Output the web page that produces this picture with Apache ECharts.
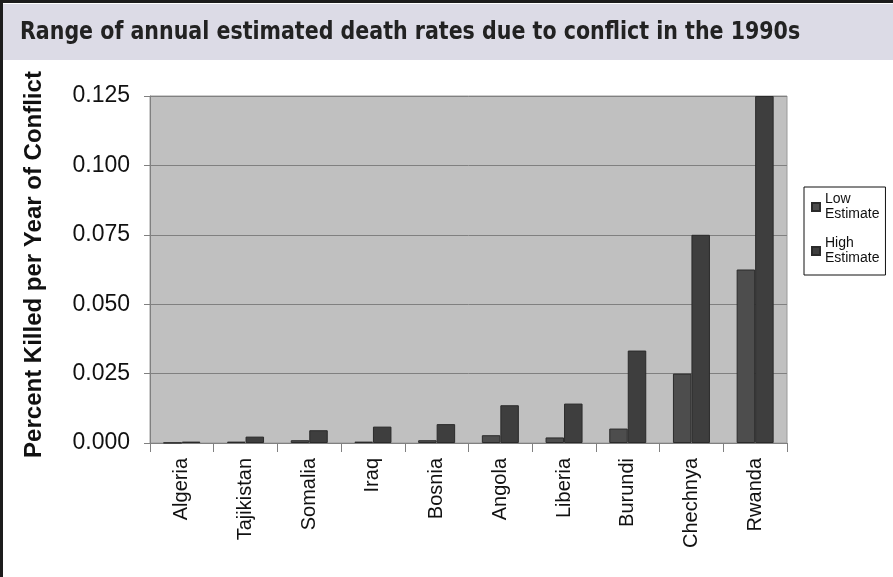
<!DOCTYPE html>
<html>
<head>
<meta charset="utf-8">
<script src="https://cdn.jsdelivr.net/npm/echarts@6/dist/echarts.min.js"></script>
<style>
  html, body { margin: 0; padding: 0; background: #fff; }
  #chart { width: 893px; height: 577px; }
</style>
</head>
<body>
<div id="chart"></div>
<script>
// Annual estimated death rates (percent killed per year of conflict), 1990s
const countries = ['Algeria', 'Tajikistan', 'Somalia', 'Iraq', 'Bosnia', 'Angola', 'Liberia', 'Burundi', 'Chechnya', 'Rwanda'];
const lowEstimate = [0.0001, 0.0005, 0.001, 0.0005, 0.001, 0.0028, 0.002, 0.0052, 0.025, 0.0625];
const highEstimate = [0.0005, 0.0023, 0.0046, 0.0059, 0.0068, 0.0136, 0.0142, 0.0333, 0.075, 0.125];
const yTicks = { min: 0, max: 0.125, interval: 0.025 };

const chart = echarts.init(document.getElementById('chart'), null, { renderer: 'canvas' });

const barBase = {
  type: 'bar',
  barWidth: 18.5,
  barGap: '0%',
  animation: false
};

chart.setOption({
  backgroundColor: '#ffffff',
  textStyle: { fontFamily: 'Liberation Sans, Arial, sans-serif' },
  graphic: [
    { type: 'rect', z: 0, shape: { x: 3, y: 4, width: 895, height: 56 }, style: { fill: '#dcdbe6' } },
    { type: 'rect', z: 1, shape: { x: 1.5, y: 1.5, width: 900, height: 600 }, style: { fill: null, stroke: '#1c1c1c', lineWidth: 3 } },
    {
      type: 'text', z: 2, x: 20, y: 20, scaleX: 0.915,
      style: {
        text: 'Range of annual estimated death rates due to conflict in the 1990s',
        font: 'bold 25px "DejaVu Sans Condensed", sans-serif',
        fill: '#222222',
        verticalAlign: 'top'
      }
    }
  ],
  grid: {
    left: 150, right: 106, top: 96, bottom: 134,
    show: true, backgroundColor: '#c0c0c0', borderColor: '#9a9a9a', borderWidth: 1
  },
  legend: {
    orient: 'vertical',
    left: 804, top: 187,
    padding: [5, 6, 9, 7],
    itemGap: 14,
    itemWidth: 8, itemHeight: 8,
    borderColor: '#111', borderWidth: 1,
    icon: 'rect',
    textStyle: { fontSize: 14, lineHeight: 15, color: '#111', fontFamily: 'Liberation Sans, Arial, sans-serif' },
    formatter: name => name.replace(' ', '\n'),
    data: ['Low Estimate', 'High Estimate']
  },
  xAxis: {
    type: 'category',
    data: countries,
    boundaryGap: true,
    axisLine: { lineStyle: { color: '#808080', width: 1 } },
    axisTick: { show: true, length: 9, lineStyle: { color: '#808080' } },
    axisLabel: { rotate: 90, fontSize: 20, color: '#111', margin: 15, interval: 0 },
    splitLine: { show: false }
  },
  yAxis: {
    type: 'value',
    min: yTicks.min, max: yTicks.max, interval: yTicks.interval,
    name: 'Percent Killed per Year of Conflict',
    nameLocation: 'middle',
    nameGap: 104,
    nameTextStyle: { fontSize: 24, fontWeight: 'bold', color: '#111', padding: [0, 0, 0, 10] },
    axisLine: { show: true, lineStyle: { color: '#808080' } },
    axisTick: { show: true, length: 6, lineStyle: { color: '#808080' } },
    axisLabel: { fontSize: 23, color: '#111', margin: 20, formatter: v => v.toFixed(3) },
    splitLine: { show: true, lineStyle: { color: '#808080', width: 1 } }
  },
  series: [
    Object.assign({}, barBase, {
      name: 'Low Estimate',
      data: lowEstimate,
      itemStyle: { color: '#4d4d4d', borderColor: '#2a2a2a', borderWidth: 1 }
    }),
    Object.assign({}, barBase, {
      name: 'High Estimate',
      data: highEstimate,
      itemStyle: { color: '#3e3e3e', borderColor: '#2a2a2a', borderWidth: 1 }
    })
  ]
});
</script>
</body>
</html>
